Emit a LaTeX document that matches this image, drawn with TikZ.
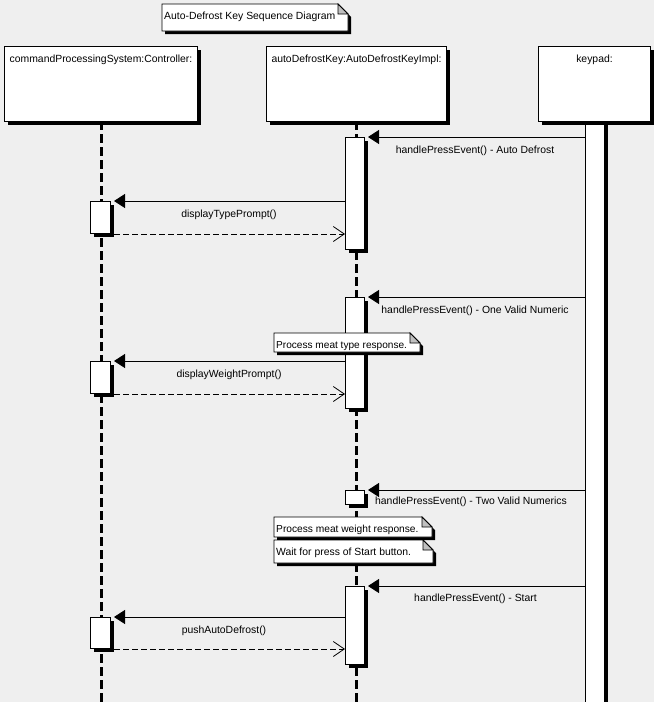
\documentclass[tikz,border=0pt]{standalone}
\usepackage{fontspec}
\setmainfont{Liberation Sans}
\usetikzlibrary{arrows.meta,shadows}
\definecolor{bggray}{RGB}{239,239,239}
\definecolor{foldgray}{RGB}{192,192,192}
\tikzset{
  box/.style={draw=black, fill=white, line width=1pt, inner sep=0pt, anchor=north west,
    drop shadow={shadow xshift=3pt, shadow yshift=-3pt, opacity=1, fill=black}},
  lbl/.style={inner sep=0pt, anchor=base, font=\fontsize{10.4}{12}\selectfont},
  lifeline/.style={line width=3pt, dash pattern=on 9pt off 4pt},
  msg/.style={line width=0.8pt, -{Triangle[length=11pt,width=14pt]}},
  ret/.style={line width=0.8pt, dash pattern=on 6pt off 3pt, -{Straight Barb[length=11pt,width=15pt,line width=0.8pt]}},
  notefill/.style={fill=white, draw=black, line width=0.8pt},
  notetext/.style={inner sep=0pt, anchor=base west}
}
\newcommand\umlnote[7]{%
  \fill[black] (#2+3,#3+3) -- (#2+#4-10+3,#3+3) -- (#2+#4+3,#3+10+3) -- (#2+#4+3,#3+#5+3) -- (#2+3,#3+#5+3) -- cycle;
  \filldraw[notefill] (#2,#3) -- (#2+#4-10,#3) -- (#2+#4,#3+10) -- (#2+#4,#3+#5) -- (#2,#3+#5) -- cycle;
  \filldraw[fill=foldgray, draw=black, line width=0.8pt] (#2+#4-10,#3) -- (#2+#4-10,#3+10) -- (#2+#4,#3+10) -- cycle;
  \node[notetext, font=\fontsize{#7}{12}\selectfont] (#1) at (#2+2,#3+15.5) {#6};
}
\begin{document}
\begin{tikzpicture}[x=1pt,y=-1pt]
\useasboundingbox (0,0) rectangle (669,702);
\fill[white] (0,0) rectangle (669,702);
\fill[bggray] (0,0) rectangle (654,702);

% lifelines
\coordinate (ctlend) at (101.5,706);
\coordinate (adkend) at (356.5,706);
\draw[lifeline] (101.5,121) -- (ctlend);
\draw[lifeline] (356.5,121) -- (adkend);

% keypad activation bar
\node[box, minimum width=19pt, minimum height=590pt] (kpbar) at (585,121) {};

% lifeline heads
\node[box, minimum width=193pt, minimum height=75pt] (ctl) at (4,46) {};
\node[box, minimum width=180pt, minimum height=75pt] (adk) at (266,46) {};
\node[box, minimum width=112pt, minimum height=75pt] (kp) at (538,46) {};
\node[lbl] (ctltxt) at (ctl.north |- 0,62) {commandProcessingSystem:Controller:};
\node[lbl] (adktxt) at (adk.north |- 0,62) {autoDefrostKey:AutoDefrostKeyImpl:};
\node[lbl] (kptxt) at (kp.north |- 0,62) {keypad:};

% activation bars
\node[box, minimum width=19pt, minimum height=112pt] (a1) at (345,137) {};
\node[box, minimum width=19pt, minimum height=111pt] (a2) at (345,297) {};
\node[box, minimum width=19pt, minimum height=14pt] (a3) at (345,490) {};
\node[box, minimum width=19pt, minimum height=78pt] (a4) at (345,586) {};
\node[box, minimum width=20pt, minimum height=32pt] (c1) at (90,201) {};
\node[box, minimum width=20pt, minimum height=32pt] (c2) at (90,361) {};
\node[box, minimum width=20pt, minimum height=31pt] (c3) at (90,617) {};

% messages
\draw[msg] (kpbar.west |- a1.north) -- ([xshift=3pt]a1.north east);
\draw[msg] (a1.west |- c1.north) -- ([xshift=3pt]c1.north east);
\draw[ret] ([xshift=3pt]c1.south east) -- (a1.west |- c1.south);
\draw[msg] (kpbar.west |- a2.north) -- ([xshift=3pt]a2.north east);
\draw[msg] (a2.west |- c2.north) -- ([xshift=3pt]c2.north east);
\draw[ret] ([xshift=3pt]c2.south east) -- (a2.west |- c2.south);
\draw[msg] (kpbar.west |- a3.north) -- ([xshift=3pt]a3.north east);
\draw[msg] (kpbar.west |- a4.north) -- ([xshift=3pt]a4.north east);
\draw[msg] (a4.west |- c3.north) -- ([xshift=3pt]c3.north east);
\draw[ret] ([xshift=3pt]c3.south east) -- (a4.west |- c3.south);

% message labels
\node[lbl] (l1) at (475,153) {handlePressEvent() - Auto Defrost};
\node[lbl] (l2) at (229,217) {displayTypePrompt()};
\node[lbl] (l3) at (475,313) {handlePressEvent() - One Valid Numeric};
\node[lbl] (l4) at (229,377) {displayWeightPrompt()};
\node[lbl] (l5) at (471,504) {handlePressEvent() - Two Valid Numerics};
\node[lbl] (l6) at (475.5,601) {handlePressEvent() - Start};
\node[lbl] (l7) at (224,633) {pushAutoDefrost()};

% notes
\umlnote{title}{162}{4}{186}{27}{Auto-Defrost Key Sequence Diagram}{10.4}
\umlnote{n1}{274}{333}{146}{19}{Process meat type response.}{10.1}
\umlnote{n2}{274}{517}{158}{20}{Process meat weight response.}{10.2}
\umlnote{n3}{274}{540}{159}{23}{Wait for press of Start button.}{10.4}
\end{tikzpicture}
\end{document}
